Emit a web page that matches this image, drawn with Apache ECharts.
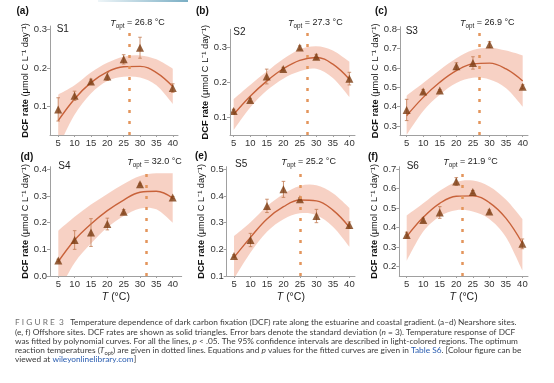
<!DOCTYPE html>
<html><head><meta charset="utf-8">
<script src="https://cdn.jsdelivr.net/npm/echarts@6/dist/echarts.min.js"></script>
<style>html,body{margin:0;padding:0;background:#fff}#c{width:554px;height:383px}</style>
</head><body><div id="c"></div>
<script>
// ---------- data ----------
const temps = [5, 10, 15, 20, 25, 30, 40];
const fitTemps = [5, 10, 15, 20, 25, 30, 35, 40];
const xTicks = [5, 10, 15, 20, 25, 30, 35, 40];
const siteNames = ['S1', 'S2', 'S3', 'S4', 'S5', 'S6'];
const panelLetters = ['(a)', '(b)', '(c)', '(d)', '(e)', '(f)'];
const tOpt = [26.8, 27.3, 26.9, 32.0, 25.2, 21.9];

const rateS1 = [0.093, 0.128, 0.165, 0.178, 0.222, 0.252, 0.148];
const sdS1   = [0.030, 0.012, 0.006, 0.010, 0.012, 0.027, 0.011];
const fitS1  = [0.064, 0.120, 0.162, 0.190, 0.203, 0.204, 0.188, 0.152];
const upS1   = [0.131, 0.155, 0.188, 0.213, 0.229, 0.232, 0.222, 0.198];
const loS1   = [-0.005, 0.079, 0.134, 0.166, 0.177, 0.175, 0.155, 0.107];

const rateS2 = [0.118, 0.149, 0.216, 0.237, 0.298, 0.272, 0.210];
const sdS2   = [0.005, 0.005, 0.021, 0.005, 0.005, 0.007, 0.018];
const fitS2  = [0.108, 0.160, 0.203, 0.238, 0.262, 0.270, 0.251, 0.208];
const upS2   = [0.152, 0.192, 0.230, 0.266, 0.293, 0.302, 0.290, 0.258];
const loS2   = [0.064, 0.128, 0.176, 0.210, 0.231, 0.238, 0.212, 0.158];

const rateS3 = [0.383, 0.479, 0.483, 0.609, 0.626, 0.721, 0.503];
const sdS3   = [0.055, 0.010, 0.005, 0.018, 0.032, 0.015, 0.010];
const fitS3  = [0.353, 0.448, 0.526, 0.586, 0.621, 0.625, 0.595, 0.533];
const upS3   = [0.457, 0.522, 0.590, 0.650, 0.693, 0.705, 0.690, 0.665];
const loS3   = [0.255, 0.378, 0.462, 0.522, 0.549, 0.540, 0.495, 0.400];

const rateS4 = [0.058, 0.135, 0.163, 0.195, 0.241, 0.344, 0.294];
const sdS4   = [0.005, 0.035, 0.052, 0.022, 0.008, 0.004, 0.004];
const fitS4  = [0.054, 0.135, 0.195, 0.245, 0.285, 0.314, 0.318, 0.292];
const upS4   = [0.170, 0.222, 0.268, 0.308, 0.345, 0.375, 0.385, 0.385];
const loS4   = [-0.060, 0.050, 0.122, 0.182, 0.225, 0.253, 0.250, 0.200];

const rateS5 = [0.175, 0.235, 0.363, 0.425, 0.388, 0.325, 0.291];
const sdS5   = [0.005, 0.025, 0.025, 0.030, 0.006, 0.025, 0.012];
const fitS5  = [0.170, 0.245, 0.314, 0.360, 0.385, 0.382, 0.347, 0.283];
const upS5   = [0.250, 0.302, 0.362, 0.408, 0.438, 0.440, 0.410, 0.355];
const loS5   = [0.090, 0.188, 0.266, 0.313, 0.335, 0.328, 0.285, 0.210];

const rateS6 = [0.362, 0.439, 0.478, 0.637, 0.583, 0.483, 0.317];
const sdS6   = [0.015, 0.010, 0.030, 0.020, 0.008, 0.008, 0.025];
const fitS6  = [0.354, 0.453, 0.525, 0.561, 0.563, 0.529, 0.449, 0.320];
const upS6   = [0.462, 0.525, 0.590, 0.635, 0.642, 0.612, 0.545, 0.445];
const loS6   = [0.230, 0.380, 0.458, 0.490, 0.483, 0.445, 0.352, 0.180];

const yTicksS1 = [0.1, 0.2, 0.3];
const yTicksS2 = [0.1, 0.2, 0.3];
const yTicksS3 = [0.3, 0.4, 0.5, 0.6, 0.7, 0.8];
const yTicksS4 = [0.0, 0.1, 0.2, 0.3, 0.4];
const yTicksS5 = [0.1, 0.2, 0.3, 0.4, 0.5];
const yTicksS6 = [0.2, 0.3, 0.4, 0.5, 0.6, 0.7];

const panels = [
  {rate: rateS1, sd: sdS1, fit: fitS1, up: upS1, lo: loS1, ticks: yTicksS1},
  {rate: rateS2, sd: sdS2, fit: fitS2, up: upS2, lo: loS2, ticks: yTicksS2},
  {rate: rateS3, sd: sdS3, fit: fitS3, up: upS3, lo: loS3, ticks: yTicksS3},
  {rate: rateS4, sd: sdS4, fit: fitS4, up: upS4, lo: loS4, ticks: yTicksS4},
  {rate: rateS5, sd: sdS5, fit: fitS5, up: upS5, lo: loS5, ticks: yTicksS5},
  {rate: rateS6, sd: sdS6, fit: fitS6, up: upS6, lo: loS6, ticks: yTicksS6}
];

// ---------- layout / style ----------
const layout = [
  {left: 50,    top: 26,    width: 128,   height: 109,   xMin: 2.5,  xMax: 41.6,  yMin: 0.027, yMax: 0.308, gap: 17,   letter: [16.5, 10.8], site: [56.7, 29.7]},
  {left: 230,   top: 29.3,  width: 125,   height: 105.7, xMin: 3.9,  xMax: 41.7,  yMin: 0.05,  yMax: 0.35,  gap: 20.5, letter: [196, 10.8],  site: [233.3, 32.5]},
  {left: 400,   top: 26.7,  width: 128,   height: 108.3, xMin: 3.0,  xMax: 41.6,  yMin: 0.2535,yMax: 0.8134,gap: 18.5, letter: [375, 10.8],  site: [405.7, 31]},
  {left: 50,    top: 166.7, width: 131.7, height: 109.3, xMin: 2.46, xMax: 42.75, yMin: 0.0,   yMax: 0.41,  gap: 18.8, letter: [20.5, 157],  site: [58.3, 166.7]},
  {left: 226.7, top: 166.7, width: 128.3, height: 109.3, xMin: 2.78, xMax: 41.7,  yMin: 0.1,   yMax: 0.51,  gap: 20.5, letter: [195, 156.7], site: [235, 164]},
  {left: 399.3, top: 166.7, width: 128.7, height: 109.3, xMin: 2.76, xMax: 41.7,  yMin: 0.152, yMax: 0.713, gap: 19.8, letter: [368, 157],   site: [406.7, 166.3]}
];
const toptY = [23, 23, 23, 162, 162, 162];

const FONT = "'Liberation Sans', Arial, sans-serif";
const CAPFONT = "Lato, 'Open Sans', sans-serif";
const axisColor = '#a0a0a0';
const labelColor = '#333';
const triColor = '#7b3b10';
const errColor = '#c27a50';
const curveColor = '#c8623a';
const bandColor = 'rgba(241,172,148,0.55)';
const dashColor = '#e3955c';

function crPath(pts) {
  let d = 'M' + pts[0][0] + ',' + pts[0][1];
  for (let i = 0; i < pts.length - 1; i++) {
    const p0 = pts[i - 1] || pts[i], p1 = pts[i], p2 = pts[i + 1], p3 = pts[i + 2] || pts[i + 1];
    const c1 = [p1[0] + (p2[0] - p0[0]) / 6, p1[1] + (p2[1] - p0[1]) / 6];
    const c2 = [p2[0] - (p3[0] - p1[0]) / 6, p2[1] - (p3[1] - p1[1]) / 6];
    d += 'C' + c1[0] + ',' + c1[1] + ',' + c2[0] + ',' + c2[1] + ',' + p2[0] + ',' + p2[1];
  }
  return d;
}

const grid = [], xAxis = [], yAxis = [], series = [], graphic = [];

panels.forEach((p, i) => {
  const L = layout[i];
  grid.push({left: L.left, top: L.top, width: L.width, height: L.height});
  xAxis.push({
    type: 'value', gridIndex: i, min: L.xMin, max: L.xMax, z: 10,
    axisLine: {lineStyle: {color: axisColor, width: 1}},
    axisTick: {show: true, length: 2, inside: false, customValues: xTicks, lineStyle: {color: axisColor}},
    axisLabel: {customValues: xTicks, margin: 3, color: labelColor, fontSize: 9.5, fontFamily: FONT},
    splitLine: {show: false},
    name: i >= 3 ? '{i|T} (°C)' : '',
    nameLocation: 'middle', nameGap: 16,
    nameTextStyle: {fontSize: 10.5, fontFamily: FONT, color: '#222', verticalAlign: 'top',
      rich: {i: {fontStyle: 'italic', fontSize: 10.5, fontFamily: FONT, color: '#222'}}}
  });
  yAxis.push({
    type: 'value', gridIndex: i, min: L.yMin, max: L.yMax, z: 10,
    axisLine: {show: true, lineStyle: {color: axisColor, width: 1}},
    axisTick: {show: true, length: 3, customValues: p.ticks, lineStyle: {color: axisColor}},
    axisLabel: {customValues: p.ticks, margin: 3, color: labelColor, fontSize: 9.5, fontFamily: FONT,
      formatter: v => v.toFixed(1)},
    splitLine: {show: false},
    name: '{b|DCF rate} (μmol C L⁻¹ day⁻¹)',
    nameLocation: 'middle', nameRotate: 90, nameGap: L.gap,
    nameTextStyle: {fontSize: 9.3, fontFamily: FONT, color: '#111',
      rich: {b: {fontWeight: 'bold', fontSize: 9.3, fontFamily: FONT, color: '#111'}}}
  });

  // confidence band
  series.push({
    type: 'custom', xAxisIndex: i, yAxisIndex: i, clip: true, silent: true, z: 1,
    data: fitTemps.map((x, k) => [x, p.lo[k], p.up[k]]),
    encode: {x: 0, y: [1, 2]},
    renderItem: (params, api) => {
      if (params.dataIndex !== 0) return null;
      const upPts = fitTemps.map((x, k) => api.coord([x, p.up[k]]));
      const loPts = fitTemps.map((x, k) => api.coord([x, p.lo[k]])).reverse();
      let d = crPath(upPts);
      const lo = crPath(loPts);
      d += 'L' + lo.slice(1) + 'Z';
      return {type: 'path', shape: {pathData: d}, style: {fill: bandColor, stroke: null}};
    }
  });

  // fitted curve + Topt dotted line
  series.push({
    type: 'line', xAxisIndex: i, yAxisIndex: i, z: 2, silent: true,
    data: fitTemps.map((x, k) => [x, p.fit[k]]),
    smooth: 0.4, symbol: 'none',
    lineStyle: {color: curveColor, width: 1.4},
    markLine: {
      silent: true, symbol: ['none', 'none'], animation: false,
      lineStyle: {type: [3, 8], color: dashColor, width: 2.5, cap: 'butt'},
      label: {show: false},
      data: [{xAxis: tOpt[i]}]
    }
  });

  // error bars
  series.push({
    type: 'custom', xAxisIndex: i, yAxisIndex: i, z: 3, silent: true,
    data: temps.map((x, k) => [x, p.rate[k], p.sd[k]]),
    encode: {x: 0, y: 1},
    renderItem: (params, api) => {
      const x = api.value(0), y = api.value(1), e = api.value(2);
      const t = api.coord([x, y + e]), b = api.coord([x, y - e]);
      const w = 1.8, st = {stroke: errColor, lineWidth: 0.8};
      return {type: 'group', children: [
        {type: 'line', shape: {x1: t[0], y1: t[1], x2: b[0], y2: b[1]}, style: st},
        {type: 'line', shape: {x1: t[0] - w, y1: t[1], x2: t[0] + w, y2: t[1]}, style: st},
        {type: 'line', shape: {x1: b[0] - w, y1: b[1], x2: b[0] + w, y2: b[1]}, style: st}
      ]};
    }
  });

  // points
  series.push({
    type: 'scatter', xAxisIndex: i, yAxisIndex: i, z: 4, silent: true,
    symbol: 'triangle', symbolSize: 8,
    itemStyle: {color: triColor},
    data: temps.map((x, k) => [x, p.rate[k]])
  });

  graphic.push({type: 'text', silent: true, style: {text: panelLetters[i], x: L.letter[0], y: L.letter[1],
    verticalAlign: 'middle', font: 'bold 10px ' + FONT, fill: '#111'}});
  graphic.push({type: 'text', silent: true, style: {text: siteNames[i], x: L.site[0], y: L.site[1],
    verticalAlign: 'middle', font: '10px ' + FONT, fill: '#222'}});
});

// blue strip at top
graphic.push({type: 'rect', silent: true, shape: {x: 98, y: 0, width: 90, height: 2},
  style: {fill: new echarts.graphic.LinearGradient(0, 0, 1, 0, [{offset: 0, color: '#eef5f8'}, {offset: 1, color: '#7aaec4'}])}});

// caption
const CS = 8.3;
const capRich = {
  fig: {fontSize: CS, fontFamily: CAPFONT, fill: '#707070', lineHeight: 12},
  t: {fontSize: CS, fontFamily: CAPFONT, fill: '#3a3a3a', lineHeight: 12},
  i: {fontSize: CS, fontFamily: CAPFONT, fontStyle: 'italic', fill: '#3a3a3a', lineHeight: 12},
  sub: {fontSize: 5.8, fontFamily: CAPFONT, fill: '#3a3a3a', lineHeight: 12, verticalAlign: 'bottom'},
  link: {fontSize: CS, fontFamily: CAPFONT, fill: '#2a5db0', lineHeight: 12}
};
const capLines = [
  '{fig|F I G U R E  3}{t|   Temperature dependence of dark carbon fixation (DCF) rate along the estuarine and coastal gradient. (a–d) Nearshore sites.}',
  '{t|(e, f) Offshore sites. DCF rates are shown as solid triangles. Error bars denote the standard deviation (}{i|n}{t| = 3). Temperature response of DCF}',
  '{t|was fitted by polynomial curves. For all the lines, }{i|p}{t| < .05. The 95% confidence intervals are described in light-colored regions. The optimum}',
  '{t|reaction temperatures (}{i|T}{sub|opt}{t|) are given in dotted lines. Equations and }{i|p}{t| values for the fitted curves are given in }{link|Table S6}{t|. [Colour figure can be}',
  '{t|viewed at }{link|wileyonlinelibrary.com}{t|]}'
];
const capY = [322.8, 332, 341.2, 350.4, 359.6];
capLines.forEach((txt, k) => {
  graphic.push({type: 'text', silent: true, style: {text: txt, x: 15, y: capY[k], verticalAlign: 'middle',
    rich: capRich, font: CS + 'px ' + CAPFONT, fill: '#3a3a3a'}});
});

const chart = echarts.init(document.getElementById('c'), null, {renderer: 'canvas'});
chart.setOption({animation: false, backgroundColor: '#fff', grid, xAxis, yAxis, series, graphic});

// Topt labels positioned on their dotted lines
const toptGraphics = tOpt.map((t, i) => {
  const px = chart.convertToPixel({xAxisIndex: i}, t);
  return {type: 'text', silent: true, style: {
    text: '{t|T}{s|opt}{n| = ' + t.toFixed(1) + ' °C}', x: px + 8, y: toptY[i],
    align: 'center', verticalAlign: 'middle',
    rich: {
      t: {fontSize: 9, fontFamily: FONT, fontStyle: 'italic', fill: '#222', lineHeight: 12},
      s: {fontSize: 6.3, fontFamily: FONT, fill: '#222', lineHeight: 12, verticalAlign: 'bottom'},
      n: {fontSize: 9, fontFamily: FONT, fill: '#222', lineHeight: 12}
    }}};
});
chart.setOption({graphic: graphic.concat(toptGraphics)});
</script>
</body></html>
